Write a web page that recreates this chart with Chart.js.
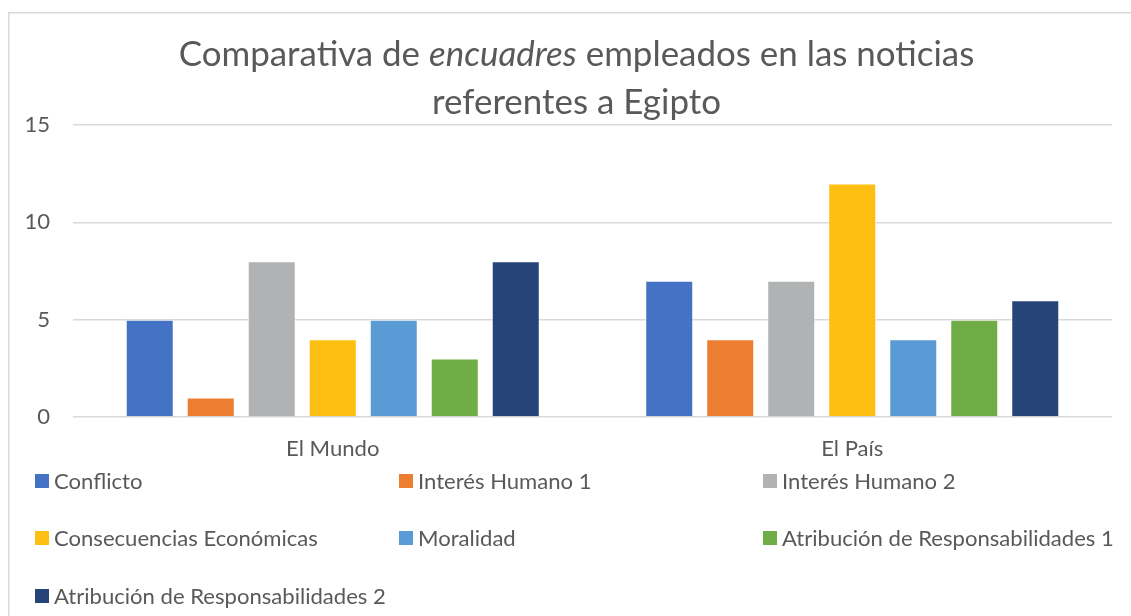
<!DOCTYPE html>
<html>
<head>
<meta charset="utf-8">
<script src="https://cdn.jsdelivr.net/npm/chart.js@4.4.1/dist/chart.umd.min.js"></script>
<style>
  html, body { margin: 0; padding: 0; background: #fff; }
  #wrap { position: relative; width: 1131px; height: 616px; }
  canvas { display: block; }
</style>
</head>
<body>
<div id="wrap"><canvas id="c" width="1131" height="616"></canvas></div>
<script>
// ---- data ----
const categories = ["El Mundo", "El País"];
const seriesNames = [
  "Conflicto",
  "Interés Humano 1",
  "Interés Humano 2",
  "Consecuencias Económicas",
  "Moralidad",
  "Atribución de Responsabilidades 1",
  "Atribución de Responsabilidades 2"
];
const conflicto = [5, 7];
const interesHumano1 = [1, 4];
const interesHumano2 = [8, 7];
const consecuenciasEconomicas = [4, 12];
const moralidad = [5, 4];
const atribucion1 = [3, 5];
const atribucion2 = [8, 6];
const yTicks = [0, 5, 10, 15];
const titleParts = [
  [["Comparativa de ", false], ["encuadres", true], [" empleados en las noticias", false]],
  [["referentes a Egipto", false]]
];

// ---- styles ----
const seriesValues = [conflicto, interesHumano1, interesHumano2, consecuenciasEconomicas, moralidad, atribucion1, atribucion2];
const colors = ["#4472C4", "#ED7D31", "#B1B2B4", "#FDBF12", "#5B9BD5", "#70AD47", "#264478"];
const FAMILY = "Lato, 'Open Sans', sans-serif";
const TEXT = "#595959";

function fitSize(text, target, style) {
  const m = document.createElement("canvas").getContext("2d");
  m.font = (style || "") + " 20px " + FAMILY;
  return 20 * target / m.measureText(text).width;
}
const legendSize = fitSize("Atribución de Responsabilidades 1", 332);
const titleSize = fitSize("referentes a Egipto", 289);
const tickSize = legendSize;

const framePlugin = {
  id: "frame",
  beforeDraw(chart) {
    const ctx = chart.ctx;
    ctx.save();
    ctx.fillStyle = "#fff";
    ctx.fillRect(0, 0, chart.width, chart.height);
    ctx.strokeStyle = "#d9d9d9";
    ctx.lineWidth = 1.5;
    ctx.strokeRect(8.75, 12.75, 1300, 800);
    ctx.restore();
  }
};

const titlePlugin = {
  id: "mixedTitle",
  afterDraw(chart) {
    const ctx = chart.ctx;
    ctx.save();
    ctx.fillStyle = TEXT;
    ctx.textBaseline = "alphabetic";
    const cx = 576.5;
    const baselines = [66, 114];
    titleParts.forEach((line, i) => {
      let total = 0;
      const widths = line.map(([t, it]) => {
        ctx.font = (it ? "italic " : "") + titleSize + "px " + FAMILY;
        const w = ctx.measureText(t).width;
        total += w;
        return w;
      });
      let x = cx - total / 2;
      line.forEach(([t, it], k) => {
        ctx.font = (it ? "italic " : "") + titleSize + "px " + FAMILY;
        ctx.textAlign = "left";
        ctx.fillText(t, x, baselines[i]);
        x += widths[k];
      });
    });
    ctx.restore();
  }
};

const legendPlugin = {
  id: "gridLegend",
  afterDraw(chart) {
    const ctx = chart.ctx;
    ctx.save();
    const colX = [35, 399, 763];
    const rowY = [474, 531, 589];
    ctx.font = legendSize + "px " + FAMILY;
    ctx.textBaseline = "middle";
    ctx.textAlign = "left";
    chart.data.datasets.forEach((ds, i) => {
      const x = colX[i % 3], y = rowY[Math.floor(i / 3)];
      ctx.fillStyle = ds.backgroundColor;
      ctx.fillRect(x, y, 14, 14);
      ctx.fillStyle = TEXT;
      ctx.fillText(ds.label, x + 19, y + 7.5);
    });
    ctx.restore();
  }
};

new Chart(document.getElementById("c"), {
  type: "bar",
  data: {
    labels: categories,
    datasets: seriesNames.map((name, i) => ({
      label: name,
      data: seriesValues[i],
      backgroundColor: colors[i],
      borderColor: "rgba(255,255,255,0.55)",
      borderWidth: 1,
      categoryPercentage: 0.822,
      barPercentage: 0.787
    }))
  },
  options: {
    responsive: false,
    animation: false,
    devicePixelRatio: 1,
    layout: { padding: { left: 0, right: 19, top: 125, bottom: 159 } },
    plugins: {
      legend: { display: false },
      title: { display: false },
      tooltip: { enabled: false }
    },
    scales: {
      x: {
        grid: { display: false, drawTicks: false },
        border: { display: false },
        ticks: { color: TEXT, font: { family: FAMILY, size: tickSize }, padding: 19 },
        afterFit(s) { s.height = 40; }
      },
      y: {
        min: yTicks[0],
        max: yTicks[yTicks.length - 1],
        afterBuildTicks(s) { s.ticks = yTicks.map(v => ({ value: v })); },
        grid: { color: "#d9d9d9", lineWidth: 1.5, drawTicks: false },
        border: { display: false },
        ticks: { color: TEXT, font: { family: FAMILY, size: tickSize }, padding: 23 },
        afterFit(s) { s.width = 73; }
      }
    }
  },
  plugins: [framePlugin, titlePlugin, legendPlugin]
});
</script>
</body>
</html>
